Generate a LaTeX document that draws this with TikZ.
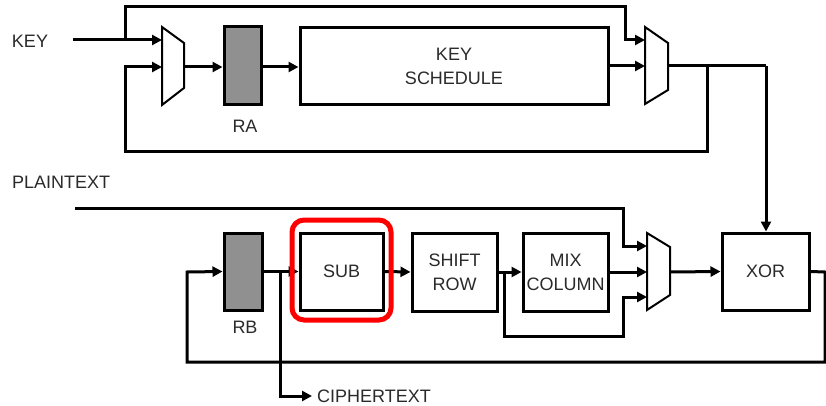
\documentclass[tikz,border=0pt]{standalone}
\usepackage{fontspec}
\setmainfont{Liberation Sans}
\usetikzlibrary{arrows.meta}
\definecolor{txt}{HTML}{2A2A2A}
\definecolor{regfill}{HTML}{909090}
\tikzset{
  blk/.style={draw=black, line width=3pt, fill=white, inner sep=0pt, text=txt, align=center, font=\fontsize{18}{24}\selectfont},
  reg/.style={draw=black, line width=3pt, fill=regfill, inner sep=0pt},
  lbl/.style={text=txt, inner sep=0pt, font=\fontsize{18}{22}\selectfont},
  wire/.style={line width=3pt, line join=miter},
  sig/.style={wire, -{Triangle[length=10pt,width=10pt]}},
  muxs/.style={draw=black, line width=2pt, fill=white, line join=miter},
  hl/.style={draw=red, line width=5pt, rounded corners=12pt}
}
\begin{document}
\begin{tikzpicture}[x=1pt,y=-1pt]
\useasboundingbox (0,0) rectangle (826,406);
\fill[white] (0,0) rectangle (826,406);

% ---- top (key) section ----
\node[lbl] (key) at (30,41) {KEY};
\coordinate (keyin) at (73,40);
\coordinate (m1a) at (162,40);
\coordinate (m1b) at (162,67);
\coordinate (m1o) at (184,67);
\coordinate (m2a) at (645,40);
\coordinate (m2b) at (645,66);
\coordinate (m2o) at (668,66);

\node[reg, minimum width=37pt, minimum height=78pt] (ra) at (242.5,66) {};
\node[lbl] (ralbl) at (245,126) {RA};
\node[blk, minimum width=308pt, minimum height=77pt] (ks) at (454,66.5) {KEY\\SCHEDULE};

% ---- bottom (data) section ----
\node[lbl, anchor=west] (pt) at (12,182) {PLAINTEXT};
\node[reg, minimum width=38pt, minimum height=77pt] (rb) at (243,271.5) {};
\node[lbl] (rblbl) at (245,327) {RB};
\node[blk, minimum width=83pt, minimum height=77pt] (sub) at (341.5,271.5) {SUB};
\node[blk, minimum width=85pt, minimum height=78pt] (sr) at (454.5,272) {SHIFT\\ROW};
\node[blk, minimum width=85pt, minimum height=78pt] (mix) at (565.5,272) {MIX\\COLUMN};
\node[blk, minimum width=87pt, minimum height=77pt] (xor) at (765.5,271.5) {XOR};
\node[lbl, anchor=west] (ct) at (317,396) {CIPHERTEXT};
\coordinate (ctin) at (312,396);

\coordinate (m3a) at (647,246);
\coordinate (m3b) at (647,272);
\coordinate (m3c) at (647,297);
\coordinate (m3o) at (670,272);

% ---- wires top ----
\draw[sig] (keyin) -- (m1a);
\draw[sig] (125,40) -- (125,7) -- (625,7) -- (625,40) -- (m2a);
\draw[wire] (m2o) -- (766,66);
\draw[sig] (766,66) -- (766,66 |- xor.north);
\draw[sig] (707,66) -- (707,152) -- (125,152) -- (125,67) -- (m1b);
\draw[sig] (m1o) -- (ra.west |- m1o);
\draw[sig] (ra.east |- m1o) -- (ks.west |- m1o);
\draw[sig] (ks.east |- m2b) -- (m2b);

% ---- wires bottom ----
\draw[sig] (75,208) -- (623,208) -- (623,246) -- (m3a);
\draw[sig] (rb.east) -- (sub.west);
\draw[sig] (280,272) -- (280,396) -- (ctin);
\draw[sig] (sub.east) -- (sr.west);
\draw[sig] (sr.east) -- (mix.west |- sr.east);
\draw[sig] (504,272) -- (504,336) -- (623,336) -- (623,297) -- (m3c);
\draw[sig] (mix.east) -- (m3b);
\draw[sig] (m3o) -- (xor.west);
\draw[sig] (xor.east) -- (825,272) -- (825,362) -- (187,362) -- (187,272) -- (rb.west);

% ---- muxes ----
\draw[muxs] (162,27) -- (184,43) -- (184,88) -- (162,105) -- cycle;
\draw[muxs] (645,27) -- (668,43) -- (668,90) -- (645,104) -- cycle;
\draw[muxs] (647,233) -- (670,247) -- (670,295) -- (647,310) -- cycle;

% ---- highlight ----
\draw[hl] (292,220) rectangle (391,320);
\end{tikzpicture}
\end{document}
